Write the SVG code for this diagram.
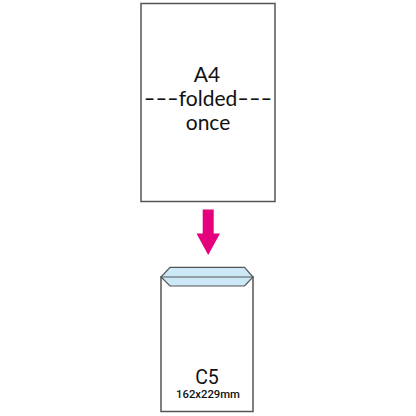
<svg xmlns="http://www.w3.org/2000/svg" width="416" height="416" viewBox="0 0 416 416">
<style>
.box{fill:#fff;stroke:#555;stroke-width:1.5}
.lbl{font-family:Lato,"Open Sans",sans-serif;font-size:21px;fill:#111;text-anchor:middle}
.rb{font-family:Roboto,sans-serif;fill:#111;text-anchor:middle}
</style>
<rect width="416" height="416" fill="#fff"/>
<g id="a4">
<rect class="box" x="141" y="3.5" width="134" height="198"/>
<text class="lbl" x="207" y="82" font-size="21.5">A4</text>
<text class="lbl" x="208" y="106"><tspan textLength="35" lengthAdjust="spacingAndGlyphs">---</tspan>folded<tspan textLength="35" lengthAdjust="spacingAndGlyphs">---</tspan></text>
<text class="lbl" x="208" y="130">once</text>
</g>
<g id="connectors">
<polygon points="202.7,209.5 213.7,209.5 213.7,233.5 220,233.5 208.2,255 196.5,233.5 202.7,233.5" fill="#e5007d"/>
</g>
<g id="c5">
<rect class="box" x="161" y="277" width="92" height="134.5"/>
<polygon points="170,267.3 244.5,267.3 253,277 244.5,286 170,286 161,277" fill="#cde8f7" stroke="#555" stroke-width="1.2"/>
<line x1="161" y1="277" x2="253" y2="277" stroke="#555" stroke-width="1.2"/>
<text class="rb" x="207" y="383.5" font-size="19.5">C5</text>
<text class="rb" x="208" y="397.5" font-size="11.3" font-weight="500">162x229mm</text>
</g>
</svg>
